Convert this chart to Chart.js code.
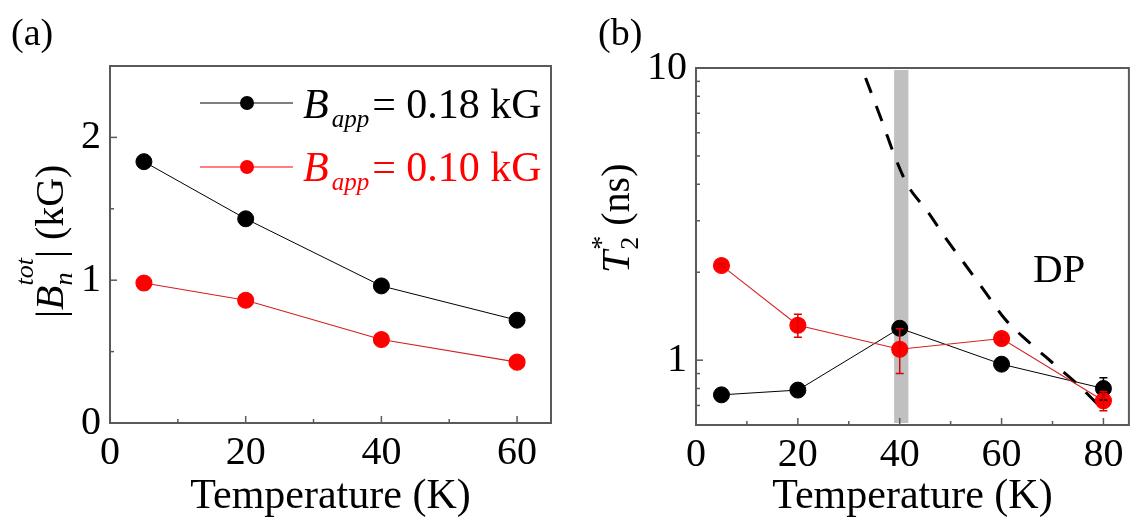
<!DOCTYPE html>
<html>
<head>
<meta charset="utf-8">
<script src="https://cdn.jsdelivr.net/npm/chart.js@4.4.0/dist/chart.umd.min.js"></script>
<style>
body{margin:0;background:#fff;width:1138px;height:521px;position:relative;overflow:hidden}
canvas{position:absolute;top:0}
#ca{left:0}
#cb{left:569px}
</style>
</head>
<body>
<canvas id="ca" width="569" height="521"></canvas>
<canvas id="cb" width="569" height="521"></canvas>
<script>
const SERIF = "'Liberation Serif', 'Times New Roman', serif";

// panel (a): |B_n^tot| vs temperature
let tempA = [5, 20, 40, 60];
let bTotHigh = [1.83, 1.43, 0.96, 0.72];   // B_app = 0.18 kG
let bTotLow = [0.98, 0.86, 0.585, 0.426];  // B_app = 0.10 kG
let fieldLabels = ['= 0.18 kG', '= 0.10 kG'];
let xTicksA = [0, 20, 40, 60];
let xMinorA = [10, 30, 50];
let yTicksA = [0, 1, 2];
let yMinorA = [0.5, 1.5];

// panel (b): T2* vs temperature (log axis)
let tempB = [5, 20, 40, 60, 80];
let t2Black = [0.761, 0.79, 1.286, 0.969, 0.80];
let t2BlackErr = [0, 0, 0.04, 0, 0.07];
let t2Red = [2.11, 1.317, 1.09, 1.186, 0.726];
let t2RedErr = [0.03, 0.12, 0.19, 0.03, 0.055];
let dpTemp = [33.3, 36.7, 38.9, 41.5, 45.4, 49.2, 52.8, 56.8, 60.7, 65.2, 70.0, 74.8, 79.3];
let dpT2 = [9.24, 6.45, 5.05, 3.99, 3.24, 2.59, 2.13, 1.71, 1.38, 1.16, 0.98, 0.83, 0.695];
let bandTemp = [38.9, 41.7];
let xTicksB = [0, 20, 40, 60, 80];
let xMinorB = [10, 30, 50, 70];
let yTicksB = [1, 10];
let yMinorB = [0.6, 0.7, 0.8, 0.9, 2, 3, 4, 5, 6, 7, 8, 9];

const RED = '#ff0000';
const pts = (xs, ys) => xs.map((x, i) => ({x: x, y: ys[i]}));

// draw a run of text pieces; stack=true puts a piece at the same x as the previous one
function rich(ctx, parts, x, y) {
  let cx = x, lastStart = x;
  for (const p of parts) {
    ctx.font = (p.i ? 'italic ' : '') + p.s + 'px ' + SERIF;
    let start = p.stack ? lastStart : cx + (p.gap || 0);
    ctx.fillText(p.t, start, y + (p.dy || 0));
    if (!p.stack) lastStart = start;
    cx = Math.max(cx, start + ctx.measureText(p.t).width);
  }
}

const frame = {
  id: 'frame',
  afterDraw(chart, args, o) {
    const {ctx, chartArea: a, scales: {x, y}} = chart;
    ctx.save();
    ctx.strokeStyle = '#5a5a5a';
    ctx.lineWidth = 2;
    ctx.strokeRect(a.left, a.top, a.right - a.left, a.bottom - a.top);
    ctx.lineWidth = 1.5;
    const tick = (sc, vals, len) => vals.forEach(v => {
      const p = sc.getPixelForValue(v);
      ctx.beginPath();
      if (sc.isHorizontal()) { ctx.moveTo(p, a.bottom); ctx.lineTo(p, a.bottom - len); }
      else { ctx.moveTo(a.left, p); ctx.lineTo(a.left + len, p); }
      ctx.stroke();
    });
    tick(x, o.xMajor, 7); tick(x, o.xMinor, 4);
    tick(y, o.yMajor, 7); tick(y, o.yMinor, 4);
    ctx.restore();
  }
};

const textA = {
  id: 'textA',
  afterDraw(chart) {
    const ctx = chart.ctx;
    ctx.save();
    ctx.textBaseline = 'alphabetic';
    ctx.fillStyle = '#000';
    ctx.font = '38px ' + SERIF;
    ctx.fillText('(a)', 11, 45);
    // legend
    const rows = [{c: '#000', y: 103, b: 118}, {c: RED, y: 167, b: 181}];
    rows.forEach((r, i) => {
      ctx.strokeStyle = r.c; ctx.lineWidth = 1.2;
      ctx.beginPath(); ctx.moveTo(200, r.y); ctx.lineTo(293, r.y); ctx.stroke();
      ctx.fillStyle = r.c;
      ctx.beginPath(); ctx.arc(247, r.y, 7, 0, Math.PI * 2); ctx.fill();
      rich(ctx, [
        {t: 'B', s: 42, i: true},
        {t: 'app', s: 25, i: true, dy: 9, gap: 3},
        {t: fieldLabels[i], s: 42, gap: 3}
      ], 303, r.b);
    });
    // y title
    ctx.fillStyle = '#000';
    ctx.translate(63, 318);
    ctx.rotate(-Math.PI / 2);
    rich(ctx, [
      {t: '|', s: 40},
      {t: 'B', s: 40, i: true},
      {t: 'n', s: 26, i: true, dy: 9},
      {t: 'tot', s: 26, i: true, dy: -30, stack: true},
      {t: '|', s: 40},
      {t: ' (kG)', s: 40}
    ], 0, 0);
    ctx.restore();
  }
};

const bandB = {
  id: 'bandB',
  beforeDatasetsDraw(chart) {
    const {ctx, chartArea: a, scales: {x}} = chart;
    const x0 = x.getPixelForValue(bandTemp[0]), x1 = x.getPixelForValue(bandTemp[1]);
    ctx.save();
    ctx.fillStyle = '#c0c0c0';
    ctx.fillRect(x0, a.top + 2, x1 - x0, a.bottom - a.top - 4);
    ctx.restore();
  }
};

const errB = {
  id: 'errB',
  afterDatasetsDraw(chart) {
    const {ctx, scales: {x, y}} = chart;
    const sets = [
      {c: '#000', ys: t2Black, e: t2BlackErr},
      {c: '#e00000', ys: t2Red, e: t2RedErr}
    ];
    ctx.save();
    ctx.lineWidth = 1.5;
    sets.forEach(s => {
      ctx.strokeStyle = s.c;
      tempB.forEach((t, i) => {
        const e = s.e[i];
        if (!e) return;
        const px = x.getPixelForValue(t);
        const top = y.getPixelForValue(s.ys[i] + e), bot = y.getPixelForValue(s.ys[i] - e);
        ctx.beginPath();
        ctx.moveTo(px, top); ctx.lineTo(px, bot);
        ctx.moveTo(px - 4, top); ctx.lineTo(px + 4, top);
        ctx.moveTo(px - 4, bot); ctx.lineTo(px + 4, bot);
        ctx.stroke();
      });
    });
    ctx.restore();
  }
};

const textB = {
  id: 'textB',
  afterDraw(chart) {
    const ctx = chart.ctx;
    ctx.save();
    ctx.fillStyle = '#000';
    ctx.textBaseline = 'alphabetic';
    ctx.font = '38px ' + SERIF;
    ctx.fillText('(b)', 29, 45);
    ctx.font = '41px ' + SERIF;
    ctx.fillText('DP', 464, 282);
    ctx.translate(60, 273);
    ctx.rotate(-Math.PI / 2);
    rich(ctx, [
      {t: 'T', s: 40, i: true},
      {t: '2', s: 26, dy: 9, gap: 1},
      {t: '*', s: 28, dy: -19, stack: true},
      {t: ' (ns)', s: 40}
    ], 0, 0);
    ctx.restore();
  }
};

function axisX(min, max, ticks, h) {
  return {
    type: 'linear', min: min, max: max,
    grid: {display: false, drawTicks: false},
    border: {display: false},
    afterBuildTicks: s => { s.ticks = ticks.map(v => ({value: v})); },
    afterFit: s => { s.height = h; },
    ticks: {font: {size: 40, family: SERIF}, color: '#000', padding: 6, maxRotation: 0, autoSkip: false},
    title: {display: true, text: 'Temperature (K)', font: {size: 42, family: SERIF}, color: '#000', padding: {top: 0, bottom: -1}}
  };
}

Chart.defaults.font.family = SERIF;

new Chart(document.getElementById('ca'), {
  type: 'line',
  data: {
    datasets: [
      {data: pts(tempA, bTotLow), borderColor: '#d42020', backgroundColor: RED, pointBackgroundColor: RED,
       pointBorderColor: RED, borderWidth: 1.1, pointRadius: 8, order: 1},
      {data: pts(tempA, bTotHigh), borderColor: '#000', backgroundColor: '#000', pointBackgroundColor: '#000',
       pointBorderColor: '#000', borderWidth: 1, pointRadius: 8, order: 2}
    ]
  },
  options: {
    responsive: false, animation: false, devicePixelRatio: 1,
    layout: {padding: {left: 0, right: 18, top: 66, bottom: 0}},
    plugins: {
      legend: {display: false}, tooltip: {enabled: false},
      frame: {xMajor: xTicksA, xMinor: xMinorA, yMajor: yTicksA, yMinor: yMinorA}
    },
    scales: {
      x: axisX(0, 65, xTicksA, 98),
      y: {
        type: 'linear', min: 0, max: 2.5,
        grid: {display: false, drawTicks: false}, border: {display: false},
        afterBuildTicks: s => { s.ticks = yTicksA.map(v => ({value: v})); },
        afterFit: s => { s.width = 110; },
        ticks: {font: {size: 40, family: SERIF}, color: '#000', padding: 9, callback: v => String(v)}
      }
    }
  },
  plugins: [frame, textA]
});

new Chart(document.getElementById('cb'), {
  type: 'line',
  data: {
    datasets: [
      {data: pts(tempB, t2Red), borderColor: '#d42020', pointBackgroundColor: RED, pointBorderColor: RED,
       borderWidth: 1.1, pointRadius: 8, order: 1},
      {data: pts(tempB, t2Black), borderColor: '#000', pointBackgroundColor: '#000', pointBorderColor: '#000',
       borderWidth: 1, pointRadius: 8, order: 2},
      {data: pts(dpTemp, dpT2), borderColor: '#000', borderWidth: 3, borderDash: [16, 14],
       pointRadius: 0, cubicInterpolationMode: 'monotone', order: 3}
    ]
  },
  options: {
    responsive: false, animation: false, devicePixelRatio: 1,
    layout: {padding: {left: 0, right: 2, top: 68, bottom: 0}},
    plugins: {
      legend: {display: false}, tooltip: {enabled: false},
      frame: {xMajor: xTicksB, xMinor: xMinorB, yMajor: yTicksB, yMinor: yMinorB}
    },
    scales: {
      x: axisX(0, 85, xTicksB, 96),
      y: {
        type: 'logarithmic', min: 0.6, max: 10,
        grid: {display: false, drawTicks: false}, border: {display: false},
        afterBuildTicks: s => { s.ticks = yTicksB.map(v => ({value: v})); },
        afterFit: s => { s.width = 127; },
        ticks: {font: {size: 40, family: SERIF}, color: '#000', padding: 9, callback: v => String(v)}
      }
    }
  },
  plugins: [bandB, errB, frame, textB]
});
</script>
</body>
</html>
